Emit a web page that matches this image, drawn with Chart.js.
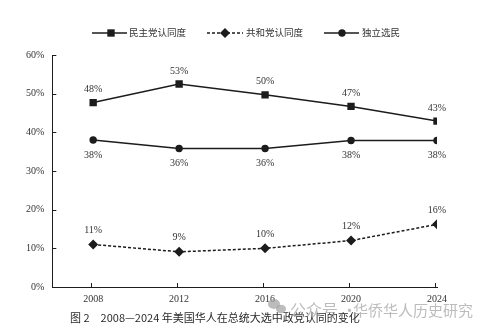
<!DOCTYPE html>
<html>
<head>
<meta charset="utf-8">
<script src="https://cdn.jsdelivr.net/npm/chart.js@4.4.0/dist/chart.umd.min.js"></script>
<style>
  html, body { margin: 0; padding: 0; background: #fff; }
</style>
</head>
<body>
<canvas id="chart" width="488" height="333"></canvas>
<script>
// Chart data
const years = [2008, 2012, 2016, 2020, 2024];
const demValues = [47.7, 52.5, 49.7, 46.7, 42.9];
const repValues = [11.0, 9.1, 10.0, 12.0, 16.2];
const indValues = [38.0, 35.8, 35.8, 37.9, 37.9];
const demLabels = ['48%', '53%', '50%', '47%', '43%'];
const repLabels = ['11%', '9%', '10%', '12%', '16%'];
const indLabels = ['38%', '36%', '36%', '38%', '38%'];
const yTicks = [0, 10, 20, 30, 40, 50, 60];
const seriesNames = ['民主党认同度', '共和党认同度', '独立选民'];
const caption = '图 2　2008—2024 年美国华人在总统大选中政党认同的变化';

const ink = '#1c1c1c';
const textColor = '#333';
const serif = '"Liberation Serif", "Noto Sans CJK SC", serif';

const toPoints = (vals) => vals.map((v, i) => ({ x: years[i], y: v }));

// Percent labels next to each point
const pointLabels = {
    id: 'pointLabels',
    afterDatasetsDraw(chart) {
        const ctx = chart.ctx;
        ctx.save();
        ctx.font = '10px ' + serif;
        ctx.fillStyle = textColor;
        ctx.textAlign = 'center';
        ctx.textBaseline = 'middle';
        chart.data.datasets.forEach((ds, di) => {
            const meta = chart.getDatasetMeta(di);
            meta.data.forEach((pt, i) => {
                ctx.fillText(ds.pointText[i], pt.x, pt.y + ds.textOffset);
            });
        });
        ctx.restore();
    }
};

// Tick marks pointing into the plot, legend row and caption
const decorations = {
    id: 'decorations',
    afterDraw(chart) {
        const ctx = chart.ctx;
        const xs = chart.scales.x, ys = chart.scales.y;
        const area = chart.chartArea;
        ctx.save();
        ctx.strokeStyle = ink;
        ctx.lineWidth = 1;
        ctx.beginPath();
        yTicks.forEach(v => {
            const y = Math.round(ys.getPixelForValue(v)) + 0.5;
            ctx.moveTo(area.left, y);
            ctx.lineTo(area.left + 4, y);
        });
        years.forEach(v => {
            const x = Math.round(xs.getPixelForValue(v) - 2) + 0.5;
            ctx.moveTo(x, area.bottom);
            ctx.lineTo(x, area.bottom - 4);
        });
        ctx.stroke();

        // legend
        const legendY = 33;
        const items = [
            { x0: 92, x1: 127, mx: 111, tx: 129 },
            { x0: 207, x1: 243, mx: 225, tx: 246 },
            { x0: 324, x1: 359, mx: 342, tx: 362 }
        ];
        chart.data.datasets.forEach((ds, i) => {
            const it = items[i];
            ctx.strokeStyle = ink;
            ctx.fillStyle = ink;
            ctx.lineWidth = 1.5;
            ctx.setLineDash(ds.borderDash || []);
            ctx.beginPath();
            ctx.moveTo(it.x0, legendY);
            ctx.lineTo(it.x1, legendY);
            ctx.stroke();
            ctx.setLineDash([]);
            Chart.helpers.drawPoint(ctx, {
                pointStyle: ds.pointStyle, radius: ds.pointRadius, rotation: 0, borderWidth: 0
            }, it.mx, legendY);
            ctx.font = '9.5px ' + serif;
            ctx.fillStyle = textColor;
            ctx.textAlign = 'left';
            ctx.textBaseline = 'middle';
            ctx.fillText(ds.label, it.tx, legendY);
        });

        // caption
        ctx.font = '11px "Noto Sans CJK SC", sans-serif';
        ctx.fillStyle = '#2a2a2a';
        ctx.textAlign = 'left';
        ctx.textBaseline = 'middle';
        ctx.fillText(caption, 70, 318);

        // watermark
        ctx.globalAlpha = 0.7;
        ctx.fillStyle = '#a0a0a0';
        ctx.beginPath();
        ctx.ellipse(274, 304, 6, 5, 0, 0, Math.PI * 2);
        ctx.fill();
        ctx.beginPath();
        ctx.ellipse(281, 309, 5, 4.2, 0, 0, Math.PI * 2);
        ctx.fill();
        ctx.font = '16px "Noto Sans CJK SC", sans-serif';
        ctx.fillText('公众号', 290, 310);
        ctx.font = '15px "Noto Sans CJK SC", sans-serif';
        ctx.fillText('·', 342, 310);
        ctx.fillText('华侨华人历史研究', 353, 310);
        ctx.restore();
    }
};

new Chart(document.getElementById('chart'), {
    type: 'line',
    data: {
        datasets: [
            {
                label: seriesNames[0],
                data: toPoints(demValues),
                pointText: demLabels,
                textOffset: -13,
                borderColor: ink,
                backgroundColor: ink,
                borderWidth: 1.5,
                pointStyle: 'rect',
                pointRadius: 5.2,
                pointBorderWidth: 0
            },
            {
                label: seriesNames[1],
                data: toPoints(repValues),
                pointText: repLabels,
                textOffset: -14,
                borderColor: ink,
                backgroundColor: ink,
                borderWidth: 1.5,
                borderDash: [3, 2],
                pointStyle: 'rectRot',
                pointRadius: 5,
                pointBorderWidth: 0
            },
            {
                label: seriesNames[2],
                data: toPoints(indValues),
                pointText: indLabels,
                textOffset: 15,
                borderColor: ink,
                backgroundColor: ink,
                borderWidth: 1.5,
                pointStyle: 'circle',
                pointRadius: 3.7,
                pointBorderWidth: 0
            }
        ]
    },
    options: {
        responsive: false,
        animation: false,
        devicePixelRatio: 1,
        layout: { padding: { left: 18, right: 51, top: 55, bottom: 22 } },
        plugins: {
            legend: { display: false },
            tooltip: { enabled: false }
        },
        scales: {
            x: {
                type: 'linear',
                min: 2006.1,
                max: 2024,
                afterBuildTicks: (scale) => { scale.ticks = years.map(v => ({ value: v })); },
                grid: { display: false, drawTicks: false },
                border: { display: true, color: ink, width: 1 },
                ticks: {
                    padding: 6,
                    color: textColor,
                    font: { family: serif, size: 10 },
                    callback: (v) => String(v)
                }
            },
            y: {
                min: 0,
                max: 60,
                afterBuildTicks: (scale) => { scale.ticks = yTicks.map(v => ({ value: v })); },
                grid: { display: false, drawTicks: false },
                border: { display: true, color: ink, width: 1 },
                ticks: {
                    padding: 8,
                    color: textColor,
                    font: { family: serif, size: 10 },
                    callback: (v) => v + '%'
                }
            }
        }
    },
    plugins: [pointLabels, decorations]
});
</script>
</body>
</html>
